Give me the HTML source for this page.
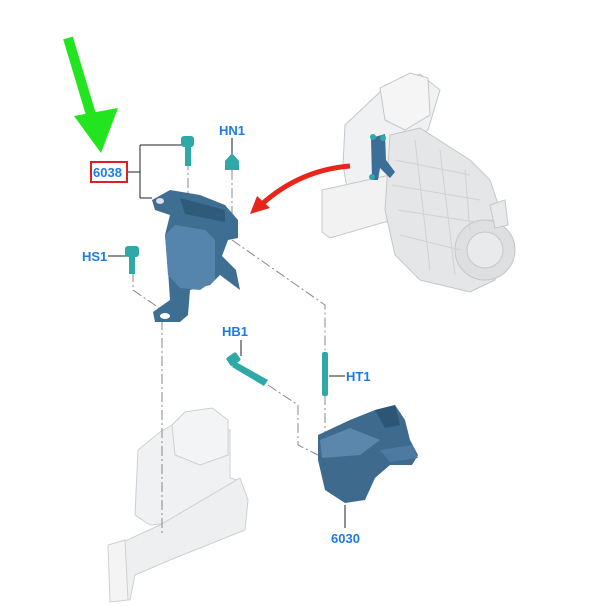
<!DOCTYPE html>
<html><head><meta charset="utf-8"><style>
html,body{margin:0;padding:0;background:#fff;width:600px;height:606px;overflow:hidden}
text{font-family:"Liberation Sans",sans-serif;font-weight:bold;font-size:13px;fill:#1e7be6}
</style></head><body>
<svg width="600" height="606" viewBox="0 0 600 606" xmlns="http://www.w3.org/2000/svg">
<!-- faint engine top right -->
<g stroke="#c4c7ca" stroke-width="1">
<path d="M345 125 L380 92 L385 85 L420 74 L440 90 L428 130 L400 150 L395 200 L350 205 L343 165 Z" fill="#f0f1f2"/>
<path d="M380 88 L410 73 L428 78 L430 115 L405 130 L385 120 Z" fill="#f5f5f6"/>
<path d="M322 190 L390 175 L392 220 L330 238 L322 232 Z" fill="#f2f2f3"/>
<path d="M390 135 L420 128 L470 160 L490 180 L500 210 L505 240 L495 280 L470 292 L420 280 L395 255 L385 210 Z" fill="#e4e6e8"/>
<circle cx="485" cy="250" r="30" fill="#dedfe1"/>
<circle cx="485" cy="250" r="18" fill="#e9eaeb"/>
<path d="M490 205 L505 200 L508 225 L495 228 Z" fill="#e8e9ea"/>
</g>
<g stroke="#cfd1d4" stroke-width="1" fill="none">
<path d="M395 160 L470 175 M392 185 L480 200 M398 210 L475 222 M400 235 L460 250 M415 140 L430 270 M440 150 L455 275 M465 170 L470 230"/>
</g>
<path d="M371 138 L385 134 L386 160 L395 172 L390 178 L380 168 L378 180 L372 180 Z" fill="#3b6f98"/>
<circle cx="373" cy="137" r="3" fill="#2fa9a8"/><circle cx="383" cy="138" r="3" fill="#2fa9a8"/><circle cx="372" cy="177" r="3" fill="#2fa9a8"/>
<!-- faint engine bottom -->
<g stroke="#cdd0d3" stroke-width="1">
<path d="M138 450 L160 432 L172 425 L230 430 L230 478 L238 480 L235 505 L200 520 L150 525 L135 515 Z" fill="#f0f1f2"/>
<path d="M172 425 L185 412 L212 408 L228 420 L228 455 L200 465 L175 455 Z" fill="#f3f4f5"/>
<path d="M110 548 L160 525 L240 478 L248 500 L245 530 L170 560 L135 575 L130 600 L112 598 Z" fill="#eeeff0"/>
<path d="M108 545 L125 540 L128 600 L110 602 Z" fill="#f4f4f5"/>
</g>
<!-- dash-dot lines -->
<g stroke="#888" stroke-width="1" fill="none" stroke-dasharray="10 3 2 3">
<path d="M188 160 L188 230"/>
<path d="M232 170 L232 235"/>
<path d="M232 240 L325 305 L325 350"/>
<path d="M325 395 L325 440"/>
<path d="M133 272 L133 290 L162 310"/>
<path d="M162 320 L162 535"/>
<path d="M268 385 L298 405 L298 445 L318 455"/>
</g>
<!-- leader lines -->
<g stroke="#222" stroke-width="1" fill="none">
<path d="M127 172 L140 172 M140 145 L140 198 M140 145 L183 145 M140 198 L152 198"/>
<path d="M232 138 L232 155"/>
<path d="M108 256 L126 256"/>
<path d="M241 340 L241 356"/>
<path d="M329 376 L345 376"/>
<path d="M345 505 L345 528"/>
</g>
<!-- mount 6038 -->
<g>
<path d="M152 200 L170 190 L200 195 L225 205 L238 220 L238 238 L228 240 L222 256 L236 270 L240 290 L220 275 L210 285 L190 290 L188 315 L180 322 L155 322 L153 312 L170 300 L168 270 L165 235 L170 215 L155 210 Z" fill="#3e6e92"/>
<path d="M165 235 L175 225 L205 230 L215 240 L215 280 L200 290 L180 288 L168 275 Z" fill="#5585ac"/>
<path d="M180 198 L225 210 L225 222 L185 214 Z" fill="#2f5a7a"/>
<ellipse cx="165" cy="316" rx="5" ry="3" fill="#fff"/>
<ellipse cx="160" cy="201" rx="4" ry="3" fill="#dde"/>
</g>
<!-- mount 6030 -->
<g>
<path d="M318 435 L350 420 L375 410 L395 405 L405 420 L410 440 L418 455 L412 465 L390 465 L375 478 L365 500 L345 503 L325 490 L318 460 Z" fill="#3e6a8e"/>
<path d="M320 440 L350 428 L380 440 L360 455 L322 458 Z" fill="#5a87ab"/>
<path d="M375 410 L395 405 L400 425 L385 428 Z" fill="#2c5576"/>
<path d="M380 450 L412 445 L418 458 L390 462 Z" fill="#4d7aa0"/>
</g>
<!-- bolts -->
<g fill="#2fa9a8">
<rect x="181" y="136" width="13" height="11" rx="3"/><rect x="185" y="146" width="6" height="20"/>
<path d="M225 161 L232 153 L239 161 L239 170 L225 170 Z"/>
<rect x="125" y="246" width="14" height="11" rx="3"/><rect x="129" y="256" width="6" height="18"/>
<rect x="228" y="354" width="12" height="10" rx="2" transform="rotate(-35 234 360)"/>
<path d="M236 362 L268 380 L264 386 L232 367 Z"/>
<rect x="322" y="352" width="6" height="44" rx="2"/>
</g>
<!-- red curved arrow -->
<path d="M350 166 Q300 170 262 204" stroke="#e8251a" stroke-width="5" fill="none"/>
<path d="M250 214 L257 196 L270 208 Z" fill="#e8251a"/>
<!-- green arrow -->
<path d="M68 38 L92 118" stroke="#22e51f" stroke-width="10"/>
<path d="M74 116 L118 108 L101 153 Z" fill="#22e51f"/>
<!-- labels -->
<rect x="91" y="162" width="36" height="20" fill="#fff" stroke="#e02020" stroke-width="2"/>
<text x="93" y="177">6038</text>
<text x="219" y="135">HN1</text>
<text x="82" y="261">HS1</text>
<text x="222" y="336">HB1</text>
<text x="346" y="381">HT1</text>
<text x="331" y="543">6030</text>
</svg>
</body></html>
